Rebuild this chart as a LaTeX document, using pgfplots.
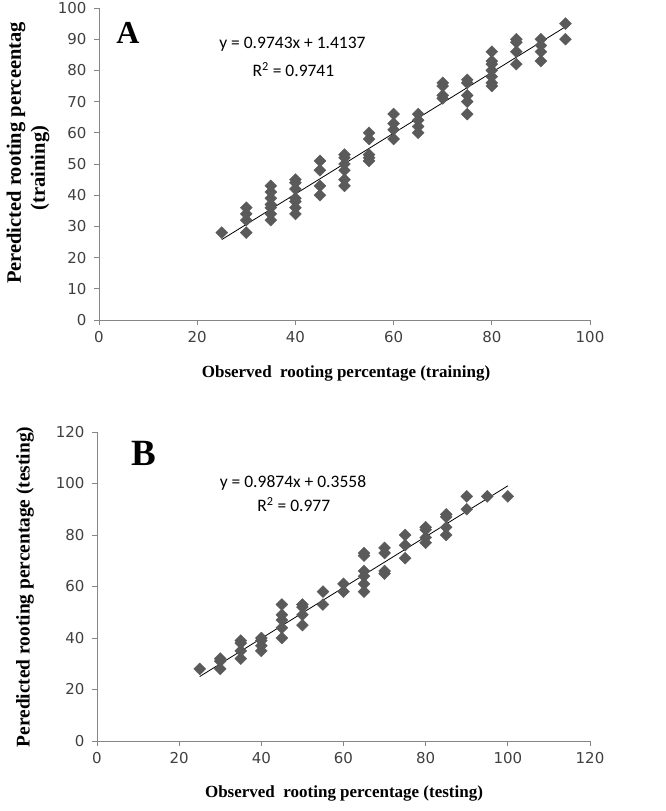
\documentclass[border=0pt]{standalone}
\usepackage{fontspec}
\setmainfont{Liberation Serif}
\newfontfamily\tickfont{DejaVu Sans}
\newfontfamily\eqfont{Carlito}
\usepackage{pgfplots}
\pgfplotsset{compat=1.18}
\definecolor{mk}{RGB}{90,90,90}
\definecolor{axc}{RGB}{134,134,134}
\pgfplotsset{
  myax/.style={
    scale only axis,
    axis lines=left,
    axis line style={-, axc, line width=0.9pt},
    tick style={axc, line width=0.9pt},
    major tick length=5pt,
    tick align=outside,
    /pgf/number format/assume math mode=true,
    tick label style={font=\tickfont\fontsize{15}{16}\selectfont, text=black!75},
    xticklabel style={yshift=-3pt},
    yticklabel style={xshift=-4pt},
    clip=false,
  },
  pts/.style={only marks, mark=square*, mark size=4.2pt,
    mark options={rotate=45, fill=mk, draw=mk, line width=0.4pt}},
  trend/.style={black, line width=0.8pt, no marks},
}
\pgfplotstableread{
x y
25 28
30 36
30 34
30 32
30 28
35 43
35 41
35 39
35 37
35 36
35 34
35 32
40 45
40 44
40 42
40 39
40 38
40 36
40 34
45 51
45 48
45 43
45 40
50 53
50 52
50 50
50 48
50 45
50 43
55 60
55 58
55 53
55 52
55 51
60 66
60 63
60 61
60 58
65 66
65 64
65 62
65 60
70 76
70 75
70 72
70 71
75 77
75 76
75 72
75 70
75 66
80 86
80 83
80 82
80 80
80 78
80 76
80 75
85 90
85 89
85 86
85 82
90 90
90 88
90 86
90 83
95 95
95 90
}\trainA
\pgfplotstableread{
x y
25 28
30 32
30 31
30 28
35 39
35 38
35 35
35 32
40 40
40 39
40 37
40 35
45 53
45 49
45 47
45 44
45 40
50 53
50 52
50 49
50 45
55 58
55 53
60 61
60 58
65 73
65 72
65 66
65 64
65 61
65 58
70 75
70 73
70 66
70 65
75 80
75 76
75 71
80 83
80 82
80 79
80 77
85 88
85 87
85 83
85 80
90 95
90 90
95 95
100 95
}\testB
\begin{document}
\begin{tikzpicture}[x=1pt,y=1pt]
\path[use as bounding box] (0,0) rectangle (666,811);
% Panel A
\begin{axis}[myax, at={(99pt,491pt)}, anchor=south west,
  width=491pt, height=312pt,
  xmin=0, xmax=100, ymin=0, ymax=100,
  xtick={0,20,...,100}, ytick={0,10,...,100}]
\addplot[pts] table[x=x,y=y] {\trainA};
\addplot[trend] coordinates {(25,25.7712) (95,93.9722)};
\node[font=\eqfont\fontsize{17.5}{18}\selectfont] at (axis cs:39.4,88.3) {y = 0.9743x + 1.4137};
\node[font=\eqfont\fontsize{17.5}{18}\selectfont] at (axis cs:39.6,80.3) {R\textsuperscript{2} = 0.9741};
\node[font=\bfseries\fontsize{32}{32}\selectfont] at (axis cs:5.9,92.0) {A};
\end{axis}
% Panel B
\begin{axis}[myax, at={(97pt,70pt)}, anchor=south west,
  width=493pt, height=309pt,
  xmin=0, xmax=120, ymin=0, ymax=120,
  xtick={0,20,...,120}, ytick={0,20,...,120}]
\addplot[pts] table[x=x,y=y] {\testB};
\addplot[trend] coordinates {(25,25.0408) (100,99.0958)};
\node[font=\eqfont\fontsize{17.5}{18}\selectfont] at (axis cs:47.7,100.4) {y = 0.9874x + 0.3558};
\node[font=\eqfont\fontsize{17.5}{18}\selectfont] at (axis cs:47.9,91.8) {R\textsuperscript{2} = 0.977};
\node[font=\bfseries\fontsize{37}{37}\selectfont] at (axis cs:11.4,111.8) {B};
\end{axis}
% axis titles
\node[font=\bfseries\fontsize{17}{18}\selectfont] at (346,438) {Observed\ \ rooting percentage (training)};
\node[font=\bfseries\fontsize{17}{18}\selectfont] at (344,18) {Observed\ \ rooting percentage (testing)};
\node[font=\bfseries\fontsize{20.5}{21}\selectfont, rotate=90] at (16,658) {Peredicted rooting perceentag};
\node[font=\bfseries\fontsize{20.5}{21}\selectfont, rotate=90] at (40,643) {(training)};
\node[font=\bfseries\fontsize{19.4}{20}\selectfont, rotate=90] at (25,224) {Peredicted rooting percentage (testing)};
\end{tikzpicture}
\end{document}
